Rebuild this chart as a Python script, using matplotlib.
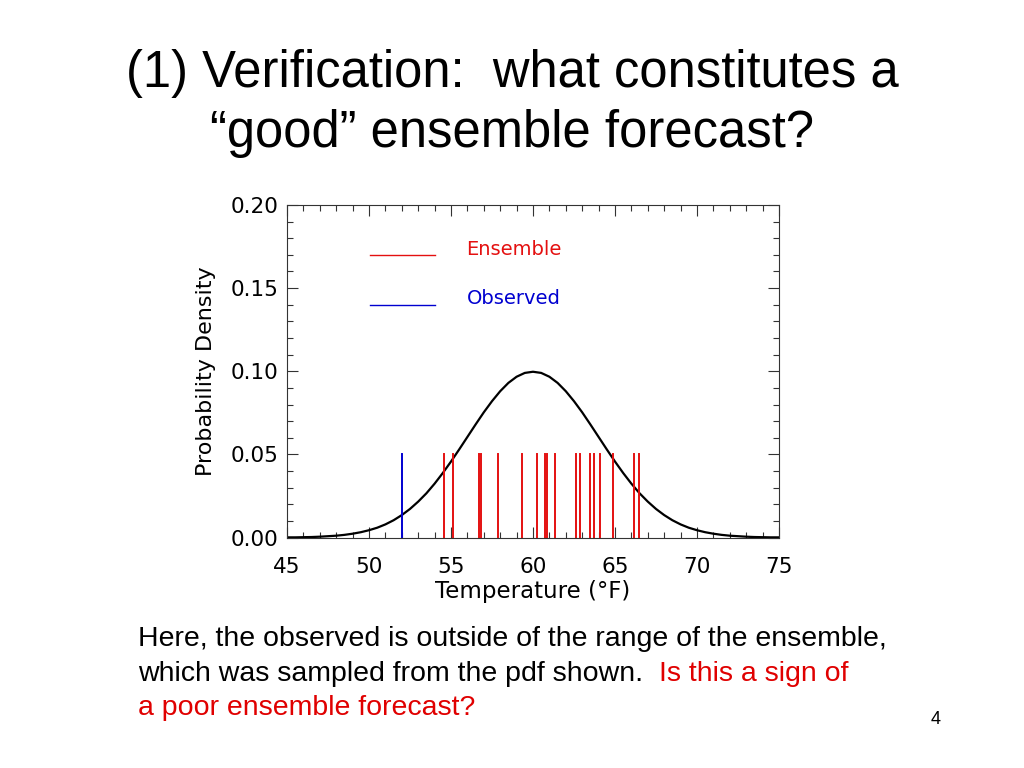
'''
Slide 4: a "good" ensemble forecast, pdf with ensemble members and the observation.
'''
import matplotlib
matplotlib.use("Agg")
from matplotlib import pyplot as plt
from matplotlib.ticker import MultipleLocator

# pdf at half degree steps, 45 to 75
temps = [45 + 0.5 * i for i in range(61)]
density = [0.0001, 0.0001, 0.0002, 0.0003, 0.0005, 0.0008, 0.0011, 0.0016,
           0.0023, 0.0032, 0.0044, 0.0059, 0.0079, 0.0104, 0.0135, 0.0172,
           0.0216, 0.0266, 0.0324, 0.0388, 0.0457, 0.0530, 0.0605, 0.0680,
           0.0753, 0.0820, 0.0880, 0.0930, 0.0967, 0.0990, 0.0997,
           0.0990, 0.0967, 0.0930, 0.0880, 0.0820, 0.0753, 0.0680, 0.0605,
           0.0530, 0.0457, 0.0388, 0.0324, 0.0266, 0.0216, 0.0172, 0.0135,
           0.0104, 0.0079, 0.0059, 0.0044, 0.0032, 0.0023, 0.0016, 0.0011,
           0.0008, 0.0005, 0.0003, 0.0002, 0.0001, 0.0001]

ensemble = [54.6, 55.1, 56.7, 56.85, 57.85, 59.3, 60.25, 60.75, 60.85, 61.35,
            62.65, 62.85, 63.5, 63.7, 64.1, 64.85, 66.15, 66.45]
observed = 52.0
member_height = 0.05

title_lines = ["(1) Verification:  what constitutes a",
               "\u201cgood\u201d ensemble forecast?"]
label_font = "DejaVu Sans"
slide_font = "Liberation Sans"

fig = plt.figure(figsize=(10.24, 7.68), dpi=100)
ax = fig.add_axes([0.2803, 0.3001, 0.4804, 0.4330])

ax.plot(temps, density, color="black", lw=1.6)
for t in ensemble:
    ax.plot([t, t], [0, member_height], color="#e41010", lw=1.4)
ax.plot([observed, observed], [0, member_height], color="#0000d0", lw=1.4)

# legend drawn inside the plot as in the original
ax.plot([50.05, 54.0], [0.170, 0.170], color="#e41010", lw=1.0)
ax.text(55.95, 0.1735, "Ensemble", color="#e41010", fontsize=14,
        family=label_font, va="center")
ax.plot([50.05, 54.0], [0.140, 0.140], color="#0000d0", lw=1.0)
ax.text(55.95, 0.1435, "Observed", color="#0000d0", fontsize=14,
        family=label_font, va="center")

ax.set_xlim(45, 75)
ax.set_ylim(0, 0.20)
ax.set_xticks(range(45, 76, 5))
ax.set_yticks([0.0, 0.05, 0.10, 0.15, 0.20])
ax.set_yticklabels(["0.00", "0.05", "0.10", "0.15", "0.20"])
ax.xaxis.set_minor_locator(MultipleLocator(1))
ax.yaxis.set_minor_locator(MultipleLocator(0.01))
ax.tick_params(which="both", direction="in", top=True, right=True,
               labelsize=15.5, colors="#333333")
ax.tick_params(which="major", length=8, width=0.8)
ax.tick_params(which="minor", length=4, width=0.8)
ax.tick_params(axis="x", pad=14)
ax.tick_params(axis="y", pad=6)
for lab in ax.get_xticklabels() + ax.get_yticklabels():
    lab.set_family(label_font)
    lab.set_color("black")
for s in ax.spines.values():
    s.set_linewidth(0.8)
    s.set_color("#333333")
ax.set_xlabel("Temperature (\u00b0F)", fontsize=16.5, family=label_font, labelpad=2)
ax.set_ylabel("Probability Density", fontsize=16, family=label_font, labelpad=11)

fig.text(0.5, 1 - 73 / 768, title_lines[0], ha="center", va="center",
         fontsize=36.5, family=slide_font)
fig.text(0.5, 1 - 133 / 768, title_lines[1], ha="center", va="center",
         fontsize=36.5, family=slide_font)

fig.text(0.135, 1 - 639 / 768, "Here, the observed is outside of the range of the ensemble,",
         fontsize=20.5, family=slide_font, va="center")
fig.text(0.135, 1 - 674 / 768, "which was sampled from the pdf shown.",
         fontsize=20.5, family=slide_font, va="center")
fig.text(0.6436, 1 - 674 / 768, "Is this a sign of", color="#e00000",
         fontsize=20.5, family=slide_font, va="center")
fig.text(0.135, 1 - 708 / 768, "a poor ensemble forecast?", color="#e00000",
         fontsize=20.5, family=slide_font, va="center")
fig.text(0.909, 1 - 719 / 768, "4", fontsize=13, family=slide_font, va="center")

fig.savefig("out.png", dpi=100)
